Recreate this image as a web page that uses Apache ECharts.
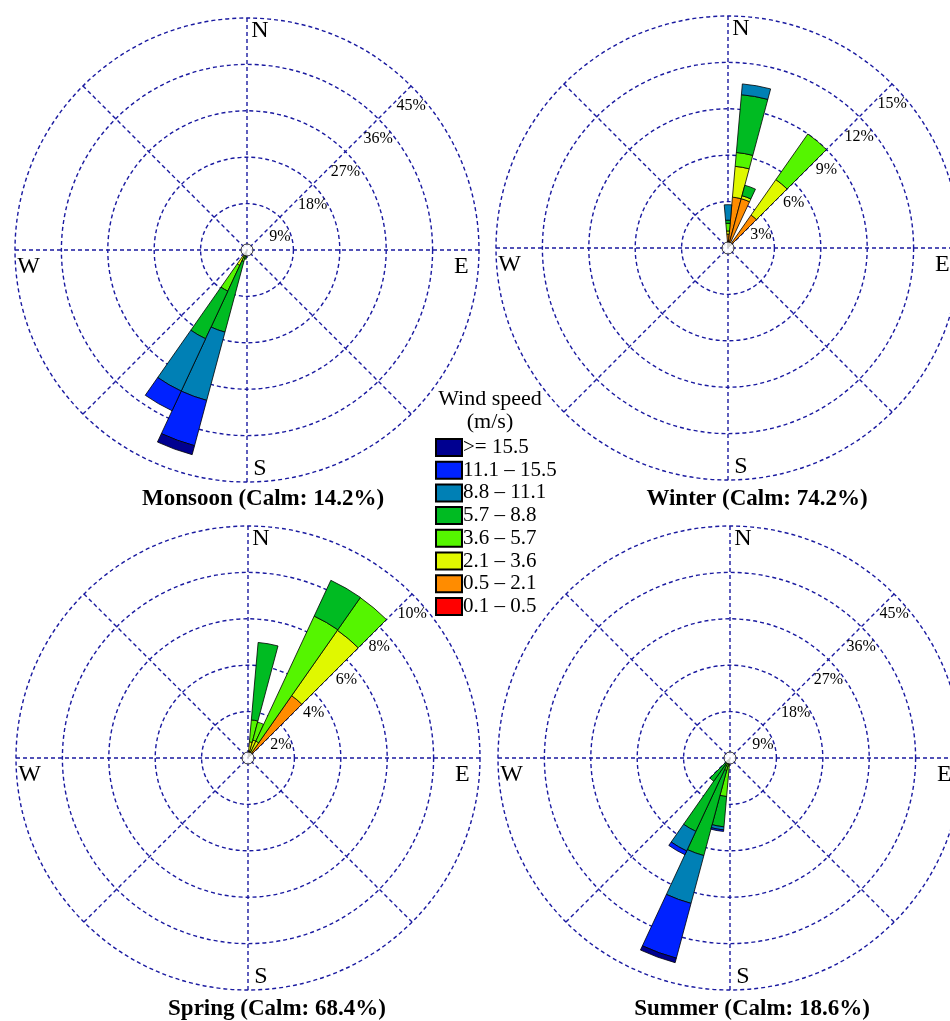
<!DOCTYPE html>
<html>
<head>
<meta charset="utf-8">
<title>Wind roses</title>
<script src="https://cdn.jsdelivr.net/npm/echarts@6/dist/echarts.min.js"></script>
<style>
  html, body { margin: 0; padding: 0; background: #fff; }
  #chart { width: 950px; height: 1021px; }
</style>
</head>
<body>
<div id="chart"></div>
<script>
  // 36 sectors of 10 degrees, clockwise from north
  var directions = ['0', '10', '20', '30', '40', '50', '60', '70', '80', '90', '100', '110',
    '120', '130', '140', '150', '160', '170', '180', '190', '200', '210', '220', '230',
    '240', '250', '260', '270', '280', '290', '300', '310', '320', '330', '340', '350'];

  // speed classes (m/s), slowest first = innermost in the stack
  var speedBins = ['0.1 \u2013 0.5', '0.5 \u2013 2.1', '2.1 \u2013 3.6', '3.6 \u2013 5.7',
    '5.7 \u2013 8.8', '8.8 \u2013 11.1', '11.1 \u2013 15.5', '>= 15.5'];

  // % frequency: one row per direction, one column per speed class
  var monsoonDirs = [190, 200, 210];
  var monsoonPct = [
    [0, 0.2, 0.3, 0.5, 0.8, 0, 0, 0],
    [0, 0.3, 0.5, 1.5, 14.2, 13.7, 9.1, 1.8],
    [0, 1.2, 2.1, 5.5, 10.2, 11.2, 4.2, 0]
  ];
  var monsoonTicks = [9, 18, 27, 36, 45];

  var winterDirs = [0, 10, 20, 40];
  var winterPct = [
    [0, 0.9, 0.2, 0.5, 0.2, 1.0, 0, 0],
    [0.1, 3.2, 2.0, 0.9, 3.75, 0.7, 0, 0],
    [0, 3.3, 0.2, 0, 0.7, 0, 0, 0],
    [0, 2.6, 2.8, 3.6, 0, 0, 0, 0]
  ];
  var winterTicks = [3, 6, 9, 12, 15];

  var springDirs = [10, 20, 30, 40];
  var springPct = [
    [0, 0.3, 0.4, 0.95, 3.35, 0, 0, 0],
    [0, 0.3, 0.5, 0.8, 0, 0, 0, 0],
    [0, 0.2, 0.6, 5.95, 1.7, 0, 0, 0],
    [0.05, 3.23, 3.44, 1.72, 0, 0, 0, 0]
  ];
  var springTicks = [2, 4, 6, 8, 10];

  var summerDirs = [190, 200, 210, 220];
  var summerPct = [
    [0, 0.4, 1.2, 5.9, 5.9, 0.6, 0.3, 0],
    [0, 0.3, 0.7, 1.5, 17.1, 9.6, 11.0, 0.9],
    [0, 0.2, 0.4, 1.0, 14.1, 4.2, 0.8, 0],
    [0, 0.2, 0.3, 0.8, 4.2, 0, 0, 0]
  ];
  var summerTicks = [9, 18, 27, 36, 45];

  var seasonTitles = ['Monsoon (Calm: 14.2%)', 'Winter (Calm: 74.2%)',
    'Spring (Calm: 68.4%)', 'Summer (Calm: 18.6%)'];

  // styles / layout
  var binColors = ['#ff0000', '#ff8c00', '#e0f800', '#55f500', '#00bb22', '#0080b5', '#0022ff', '#000090'];
  var gridColor = '#1a1aa0';
  var serif = '"Liberation Serif", "Times New Roman", serif';
  var R = 232;
  var roses = [
    { dirs: monsoonDirs, pct: monsoonPct, ticks: monsoonTicks, center: [247, 250], title: [263, 499] },
    { dirs: winterDirs, pct: winterPct, ticks: winterTicks, center: [728, 248], title: [757, 499] },
    { dirs: springDirs, pct: springPct, ticks: springTicks, center: [248, 758], title: [277, 1009] },
    { dirs: summerDirs, pct: summerPct, ticks: summerTicks, center: [730, 758], title: [752, 1009] }
  ];

  function binData(dirs, pct, bin) {
    var out = directions.map(function () { return '-'; });
    dirs.forEach(function (d, i) {
      if (pct[i][bin] > 0) out[directions.indexOf(String(d))] = pct[i][bin];
    });
    return out;
  }

  var compass = { 315: '{ns|N}', 45: '{ew|E}', 135: '{ns|S}', 225: '{ew|W}' };
  var dashed = { color: gridColor, width: 1.4, type: [4, 3] };

  var polar = [], angleAxis = [], radiusAxis = [], series = [], graphic = [];

  roses.forEach(function (rose, k) {
    var gi = 2 * k, bi = 2 * k + 1;
    var max = rose.ticks[rose.ticks.length - 1];
    polar.push({ center: rose.center, radius: R });
    polar.push({ center: rose.center, radius: R });

    // dashed grid, compass letters and % labels
    angleAxis.push({
      polarIndex: gi, type: 'value', min: 0, max: 360, interval: 45,
      startAngle: 45, clockwise: true,
      axisLine: { show: false },
      axisTick: { show: false },
      splitLine: { show: true, lineStyle: dashed },
      axisLabel: {
        margin: -25,
        color: '#000',
        fontFamily: serif,
        fontSize: 24,
        formatter: function (v) { return compass[v] || ''; },
        rich: {
          ns: { fontFamily: serif, fontSize: 24, color: '#000', padding: [0, 0, 0, 26] },
          ew: { fontFamily: serif, fontSize: 24, color: '#000', padding: [34, 0, 0, 0] }
        }
      }
    });
    radiusAxis.push({
      polarIndex: gi, type: 'value', min: 0, max: max, interval: rose.ticks[0],
      axisLine: { show: false },
      axisTick: { show: false },
      splitLine: { show: true, lineStyle: dashed },
      axisLabel: {
        margin: 0,
        align: 'center',
        verticalAlign: 'top',
        padding: [12, 0, 0, 0],
        color: '#000',
        fontFamily: serif,
        fontSize: 16,
        formatter: function (v) { return v === 0 ? '' : v + '%'; }
      }
    });

    // bars
    angleAxis.push({
      polarIndex: bi, type: 'category', data: directions,
      startAngle: 95, clockwise: true,
      axisLine: { show: false }, axisTick: { show: false },
      axisLabel: { show: false }, splitLine: { show: false }
    });
    radiusAxis.push({
      polarIndex: bi, type: 'value', min: 0, max: max,
      axisLine: { show: false }, axisTick: { show: false },
      axisLabel: { show: false }, splitLine: { show: false }
    });

    speedBins.forEach(function (name, b) {
      series.push({
        name: name,
        type: 'bar',
        coordinateSystem: 'polar',
        polarIndex: bi,
        stack: 'rose' + k,
        barCategoryGap: '0%',
        itemStyle: { color: binColors[b], borderColor: '#000', borderWidth: 0.8 },
        emphasis: { disabled: true },
        data: binData(rose.dirs, rose.pct, b)
      });
    });

    series.push({
      type: 'scatter',
      coordinateSystem: 'polar',
      polarIndex: bi,
      symbol: 'circle',
      symbolSize: 12,
      z: 10,
      itemStyle: { color: '#fff', borderColor: '#000', borderWidth: 1 },
      data: [[0, 0]]
    });

    graphic.push({
      type: 'text', x: rose.title[0], y: rose.title[1],
      style: {
        text: seasonTitles[k], align: 'center', verticalAlign: 'middle',
        font: 'bold 23px ' + serif, fill: '#000'
      }
    });
  });

  graphic.push({
    type: 'text', x: 490, y: 399,
    style: { text: 'Wind speed', align: 'center', verticalAlign: 'middle', font: '22px ' + serif, fill: '#000' }
  });
  graphic.push({
    type: 'text', x: 490, y: 422,
    style: { text: '(m/s)', align: 'center', verticalAlign: 'middle', font: '22px ' + serif, fill: '#000' }
  });

  var chart = echarts.init(document.getElementById('chart'));
  chart.setOption({
    animation: false,
    backgroundColor: '#fff',
    polar: polar,
    angleAxis: angleAxis,
    radiusAxis: radiusAxis,
    legend: {
      orient: 'vertical',
      left: 435,
      top: 437,
      padding: 0,
      icon: 'rect',
      itemWidth: 26,
      itemHeight: 17,
      itemGap: 1.7,
      selectedMode: false,
      data: speedBins.slice().reverse(),
      textStyle: { fontFamily: serif, fontSize: 21, color: '#000', padding: [0, 0, 0, -4] }
    },
    graphic: graphic,
    series: series
  });
</script>
</body>
</html>
